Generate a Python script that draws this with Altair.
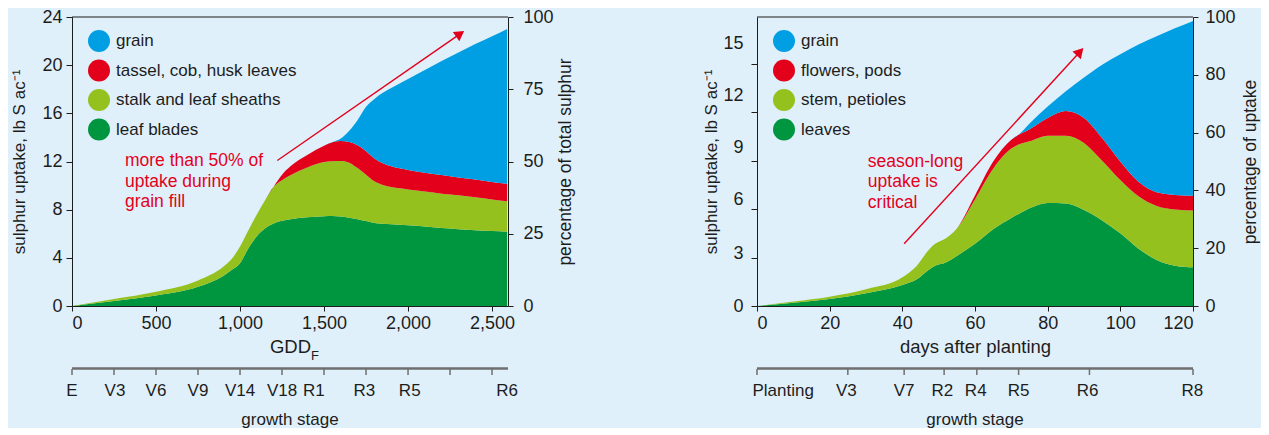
import altair as alt
import pandas as pd

# ---------------- corn panel data (left) ----------------
corn_gdd = [0, 250, 500, 750, 900, 950, 1000, 1050, 1100, 1150, 1200, 1250, 1300, 1400, 1500,
            1550, 1600, 1650, 1700, 1750, 1800, 1850, 1900, 2000, 2100, 2200, 2300, 2400, 2500, 2590]
corn_leaf_blades = [0, 0.42, 0.88, 1.6, 2.5, 3.0, 3.55, 4.8, 5.8, 6.45, 6.85, 7.07, 7.2, 7.36, 7.45,
                    7.47, 7.43, 7.33, 7.2, 7.05, 6.9, 6.83, 6.78, 6.7, 6.6, 6.47, 6.38, 6.3, 6.22, 6.17]
corn_stalk = [0, 0.16, 0.30, 0.52, 0.75, 0.9, 1.4, 1.5, 1.8, 2.35, 3.05, 3.38, 3.65, 4.14, 4.5,
              4.56, 4.62, 4.57, 4.25, 3.85, 3.45, 3.22, 3.1, 2.98, 2.9, 2.86, 2.82, 2.73, 2.63, 2.53]
corn_tassel = [0, 0, 0, 0, 0, 0, 0, 0, 0, 0, 0, 0.45, 0.75, 1.05, 1.35,
               1.57, 1.65, 1.72, 1.9, 1.95, 1.9, 1.8, 1.72, 1.62, 1.57, 1.54, 1.47, 1.47, 1.45, 1.45]
corn_grain = [0, 0, 0, 0, 0, 0, 0, 0, 0, 0, 0, 0, 0, 0, 0,
              0, 0.2, 0.93, 2.1, 3.7, 4.95, 5.85, 6.5, 7.55, 8.53, 9.48, 10.38, 11.25, 12.1, 12.85]
corn_parts = ["leaf blades", "stalk and leaf sheaths", "tassel, cob, husk leaves", "grain"]
corn_x_ticks = [0, 500, 1000, 1500, 2000, 2500]
corn_y_ticks = [0, 4, 8, 12, 16, 20, 24]
corn_pct_ticks = [0, 25, 50, 75, 100]
corn_stage_ticks = [0, 250, 500, 750, 1000, 1250, 1500, 1750, 2000, 2250, 2500]
corn_stage_names = ["E", "V3", "V6", "V9", "V14", "V18", "R1", "R3", "R5", "R6"]
corn_stage_at = [0, 256, 500, 750, 1000, 1250, 1440, 1740, 2010, 2590]
corn_note = "more than 50% of\nuptake during\ngrain fill"
corn_note_at = [315, 12.75]
corn_arrow = [1222, 12.08, 2310, 22.6]

# ---------------- soybean panel data (right) ----------------
soy_days = [0, 10, 20, 30, 40, 44, 47, 49, 52, 55, 60, 65, 70, 72, 75, 80, 85, 90, 95, 100,
            105, 110, 115, 120]
soy_leaves = [0, 0.2, 0.43, 0.79, 1.3, 1.65, 2.2, 2.5, 2.7, 3.1, 3.85, 4.75, 5.45, 5.7, 6.05,
              6.38, 6.35, 5.95, 5.3, 4.5, 3.55, 2.85, 2.5, 2.4]
soy_stem = [0, 0.08, 0.15, 0.25, 0.48, 0.85, 1.2, 1.35, 1.5, 1.7, 2.75, 3.75, 4.3, 4.3, 4.15,
            4.17, 4.2, 4.15, 3.7, 3.3, 3.25, 3.35, 3.48, 3.52]
soy_flowers = [0, 0, 0, 0, 0, 0, 0, 0, 0, 0, 0.25, 0.45, 0.55, 0.6, 0.75,
               1.1, 1.53, 1.55, 1.4, 1.15, 0.9, 0.85, 0.9, 0.91]
soy_grain = [0, 0, 0, 0, 0, 0, 0, 0, 0, 0, 0, 0, 0, 0, 0.35,
             0.7, 1.22, 2.5, 4.55, 6.65, 8.5, 9.65, 10.32, 10.83]
soy_parts = ["leaves", "stem, petioles", "flowers, pods", "grain"]
soy_x_ticks = [0, 20, 40, 60, 80, 100, 120]
soy_y_ticks = [0, 3, 6, 9, 12, 15]
soy_pct_ticks = [0, 20, 40, 60, 80, 100]
soy_stage_ticks = [0, 25, 40.5, 51.5, 60.5, 72, 91.5, 120]
soy_stage_names = ["Planting", "V3", "V7", "R2", "R4", "R5", "R6", "R8"]
soy_stage_at = [7.2, 24.6, 40.5, 51, 60.2, 72, 91, 119.8]
soy_note = "season-long\nuptake is\ncritical"
soy_note_at = [30.5, 9.5]
soy_arrow = [40.5, 3.85, 88.9, 15.75]

# ---------------- style ----------------
FONT = "Liberation Sans"
INK = "#1d1d1b"
RED = "#e3001b"
GRAY = "#6f6f6f"
BG = "#e0f0fb"
PART_COLORS = ["#009640", "#95c11f", "#e3001b", "#009fe3"]  # bottom to top
W, H = 436, 289


def panel(x, parts, series, xdom, xticks, xlabel_expr, xtitle, xsub, ydom, yticks, ytitle,
          ylab_pad, ytitle_pad, ylab_offset, pct_ticks, pct_title, pct_lab_pad, pct_title_pad,
          arrow, arrow_angle, note, note_at, stage_ticks, stage_names, stage_at):
    rows = []
    for k, (name, vals) in enumerate(zip(parts, series)):
        for xv, v in zip(x, vals):
            rows.append({"x": xv, "v": v, "part": name, "ord": k})
    df = pd.DataFrame(rows)
    xs = alt.Scale(domain=xdom, nice=False, zero=False)
    ys = alt.Scale(domain=ydom, nice=False)

    yax = dict(values=yticks, title=ytitle, tickSize=6, labelPadding=ylab_pad,
               titlePadding=ytitle_pad, titleFontSize=17)
    if ylab_offset is not None:
        yax["labelOffset"] = ylab_offset

    areas = alt.Chart(df).mark_area(interpolate="monotone", opacity=1).encode(
        x=alt.X("x:Q", scale=xs,
                axis=alt.Axis(values=xticks, labelExpr=xlabel_expr, title=xtitle,
                              titleFontSize=18.5, labelPadding=3, titlePadding=5, tickSize=5)),
        y=alt.Y("v:Q", stack="zero", scale=ys, axis=alt.Axis(**yax)),
        color=alt.Color("part:N",
                        scale=alt.Scale(domain=parts[::-1], range=PART_COLORS[::-1]),
                        legend=alt.Legend(orient="none", legendX=16, legendY=13, title=None,
                                          symbolType="circle", symbolSize=484,
                                          symbolStrokeWidth=0, symbolOpacity=1,
                                          labelFontSize=17, labelOffset=6, rowPadding=7.5,
                                          padding=0, labelLimit=400)),
        order=alt.Order("ord:Q", sort="ascending"),
    )

    top_line = alt.Chart(pd.DataFrame({"a": [0]})).mark_rule(color=INK, strokeWidth=1).encode(
        x=alt.value(0), x2=alt.value(W), y=alt.value(0))

    adf = pd.DataFrame({"x": [arrow[0]], "y": [arrow[1]], "x2": [arrow[2]], "y2": [arrow[3]]})
    arrow_line = alt.Chart(adf).mark_rule(color=RED, strokeWidth=1.4).encode(
        x="x:Q", y="y:Q", x2="x2:Q", y2="y2:Q")
    arrow_head = alt.Chart(adf).mark_point(shape="triangle-up", filled=True, color=RED,
                                           size=130, angle=arrow_angle, opacity=1).encode(
        x="x2:Q", y="y2:Q")

    ndf = pd.DataFrame({"x": [note_at[0]], "y": [note_at[1]], "t": [note]})
    note_text = alt.Chart(ndf).mark_text(align="left", baseline="top", lineBreak="\n",
                                         lineHeight=20.5, font=FONT, fontSize=17.5,
                                         color=RED).encode(
        x="x:Q", y="y:Q", text="t:N")

    line_df = pd.DataFrame({"a": [0]})
    stage_line = alt.Chart(line_df).mark_rule(color=GRAY, strokeWidth=2.5).encode(
        x=alt.value(0), x2=alt.value(W), y=alt.value(H + 62.5))
    stage_tick = alt.Chart(pd.DataFrame({"x": stage_ticks})).mark_rule(
        color=GRAY, strokeWidth=1.5).encode(
        x="x:Q", y=alt.value(H + 63), y2=alt.value(H + 69))
    stage_lab = alt.Chart(pd.DataFrame({"x": stage_at, "s": stage_names})).mark_text(
        font=FONT, fontSize=17, color=INK, baseline="middle").encode(
        x="x:Q", y=alt.value(H + 85), text="s:N")
    stage_title = alt.Chart(pd.DataFrame({"t": ["growth stage"]})).mark_text(
        font=FONT, fontSize=17, color=INK, baseline="middle").encode(
        x=alt.value(W / 2), y=alt.value(H + 114), text="t:N")

    layers = [areas, top_line, arrow_line, arrow_head, note_text, stage_line, stage_tick,
              stage_lab, stage_title]
    if xsub:
        sub = alt.Chart(pd.DataFrame({"t": [xsub]})).mark_text(
            font=FONT, fontSize=13, color=INK, align="left", baseline="middle").encode(
            x=alt.value(W / 2 + 21), y=alt.value(H + 50), text="t:N")
        layers.append(sub)
    inner = alt.layer(*layers)

    pct = alt.Chart(pd.DataFrame({"p": [0, 100]})).mark_point(opacity=0).encode(
        y=alt.Y("p:Q", scale=alt.Scale(domain=[0, 100], nice=False),
                axis=alt.Axis(orient="right", values=pct_ticks, title=pct_title, tickSize=5,
                              labelPadding=pct_lab_pad, titlePadding=pct_title_pad,
                              titleFontSize=17.5, titleAngle=270)))
    return alt.layer(inner, pct).resolve_scale(y="independent").properties(width=W, height=H)


left = panel(corn_gdd, corn_parts,
             [corn_leaf_blades, corn_stalk, corn_tassel, corn_grain],
             [0, 2595], corn_x_ticks, "format(datum.value, ',')", "GDD", "F", [0, 24],
             corn_y_ticks, "sulphur uptake, lb S ac\u207b\u00b9", 4, 13, None,
             corn_pct_ticks, "percentage of total sulphur", 10, 21,
             corn_arrow, 55, corn_note, corn_note_at,
             corn_stage_ticks, corn_stage_names, corn_stage_at)

soy_offsets = {"condition": [{"test": "datum.value == 15", "value": -20},
                             {"test": "datum.value == 12", "value": -16.5},
                             {"test": "datum.value == 9", "value": -13.5},
                             {"test": "datum.value == 6", "value": -10},
                             {"test": "datum.value == 3", "value": -4.5}],
               "value": 0}

right = panel(soy_days, soy_parts,
              [soy_leaves, soy_stem, soy_flowers, soy_grain],
              [0, 120], soy_x_ticks, "format(datum.value, 'd')", "days after planting", None,
              [0, 17.9], soy_y_ticks, "sulphur uptake, lb S ac\u207b\u00b9", 8, 2, soy_offsets,
              soy_pct_ticks, "percentage of uptake", 7, 24,
              soy_arrow, 43, soy_note, soy_note_at,
              soy_stage_ticks, soy_stage_names, soy_stage_at)

chart = alt.hconcat(left, right, spacing=128).resolve_scale(color="independent").configure(
    background=BG, padding={"left": 2, "right": 2, "top": 0, "bottom": 0}
).configure_view(stroke=None).configure_axis(
    labelFont=FONT, titleFont=FONT, labelColor=INK, titleColor=INK, domainColor=INK,
    tickColor=INK, labelFontSize=18, titleFontWeight="normal", grid=False, zindex=1
).configure_legend(labelFont=FONT, labelColor=INK)

chart.save("out.html", embed_options={"renderer": "svg", "actions": False})
